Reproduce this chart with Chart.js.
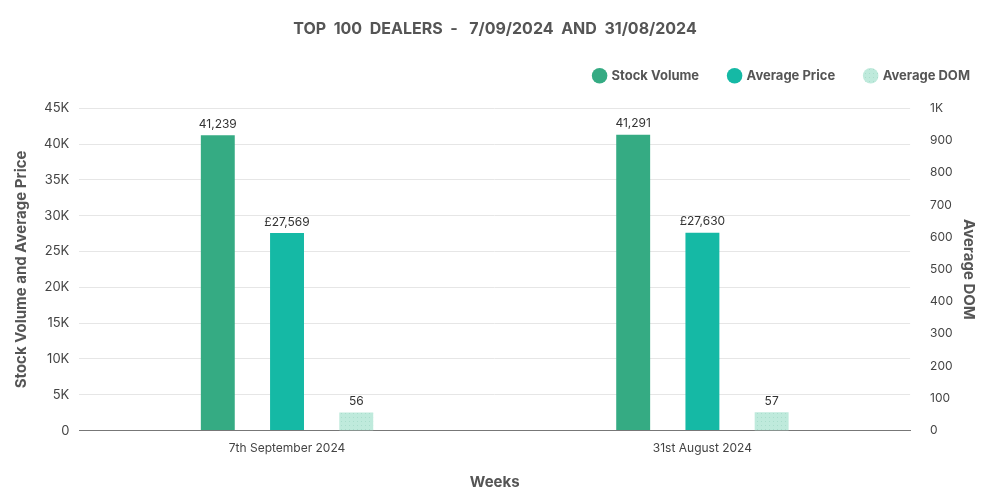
<!DOCTYPE html>
<html>
<head>
<meta charset="utf-8">
<script src="https://cdn.jsdelivr.net/npm/chart.js@4.4.1/dist/chart.umd.min.js"></script>
<style>
  html, body { margin: 0; padding: 0; background: #fff; }
  #wrap { width: 1000px; height: 500px; }
</style>
</head>
<body>
<div id="wrap"><canvas id="chart"></canvas></div>
<script>
// chart data
const weeks = ['7th September 2024', '31st August 2024'];
const stockVolume = [41239, 41291];
const averagePrice = [27569, 27630];
const averageDom = [56, 57];

const leftTicks = [0, 5000, 10000, 15000, 20000, 25000, 30000, 35000, 40000, 45000];
const rightTicks = [0, 100, 200, 300, 400, 500, 600, 700, 800, 900, 1000];

const FONT = 'Inter, "Noto Sans", sans-serif';

function shortK(v) {
    if (v === 0) return '0';
    return (v / 1000) + 'K';
}

// draws the value above each bar
const valueLabels = {
    id: 'valueLabels',
    afterDatasetsDraw(chart) {
        const ctx = chart.ctx;
        ctx.save();
        ctx.font = '12px ' + FONT;
        ctx.fillStyle = '#333';
        ctx.textAlign = 'center';
        ctx.textBaseline = 'bottom';
        chart.data.datasets.forEach((ds, i) => {
            const meta = chart.getDatasetMeta(i);
            meta.data.forEach((bar, j) => {
                const v = ds.data[j];
                let txt = v.toLocaleString('en-GB');
                if (ds.label === 'Average Price') txt = '£' + txt;
                ctx.fillText(txt, bar.x, bar.y - 5);
            });
        });
        ctx.restore();
    }
};

// extra space under the legend, and push it a bit further right
const legendTweak = {
    id: 'legendTweak',
    beforeInit(chart) {
        const fit = chart.legend.fit;
        chart.legend.fit = function () {
            fit.bind(chart.legend)();
            this.height += 16;
        };
    },
    afterLayout(chart) {
        chart.legend.left += 18;
        chart.legend.right += 18;
    }
};

// light dotted fill for the DOM bars
function dotPattern() {
    const c = document.createElement('canvas');
    c.width = 4; c.height = 4;
    const p = c.getContext('2d');
    p.fillStyle = '#bfeadc';
    p.fillRect(0, 0, 4, 4);
    p.fillStyle = '#a9ddcc';
    p.fillRect(1, 1, 1, 1);
    return p.createPattern(c, 'repeat');
}

Chart.defaults.font.family = FONT;
Chart.defaults.color = '#555';

new Chart(document.getElementById('chart'), {
    type: 'bar',
    data: {
        labels: weeks,
        datasets: [{
            label: 'Stock Volume',
            data: stockVolume,
            backgroundColor: '#35ab83',
            borderColor: '#35ab83',
            yAxisID: 'y'
        }, {
            label: 'Average Price',
            data: averagePrice,
            backgroundColor: '#15b9a5',
            borderColor: '#15b9a5',
            yAxisID: 'y'
        }, {
            label: 'Average DOM',
            data: averageDom,
            backgroundColor: dotPattern(),
            borderColor: '#bfeadc',
            yAxisID: 'y1'
        }]
    },
    options: {
        responsive: true,
        maintainAspectRatio: false,
        animation: false,
        categoryPercentage: 0.5,
        barPercentage: 0.49,
        layout: {
            padding: { left: 8, right: 18, top: 20, bottom: 5 }
        },
        plugins: {
            title: {
                display: true,
                text: 'TOP  100  DEALERS  -   7/09/2024  AND  31/08/2024',
                color: '#555',
                font: { size: 16, weight: 'bold' },
                padding: { top: 0, bottom: 0 }
            },
            legend: {
                position: 'top',
                align: 'end',
                labels: {
                    usePointStyle: true,
                    pointStyle: 'circle',
                    boxWidth: 11,
                    boxHeight: 11,
                    padding: 30,
                    color: '#555',
                    font: { size: 13, weight: 'bold' }
                }
            },
            tooltip: { enabled: false }
        },
        scales: {
            x: {
                grid: { display: false },
                border: { color: '#777' },
                ticks: { color: '#444', font: { size: 12 } },
                title: {
                    display: true,
                    text: 'Weeks',
                    color: '#555',
                    font: { size: 15, weight: 'bold' },
                    padding: { top: 14 }
                }
            },
            y: {
                position: 'left',
                min: 0,
                max: 45000,
                afterBuildTicks(axis) {
                    axis.ticks = leftTicks.map(v => ({ value: v }));
                },
                ticks: {
                    color: '#444',
                    font: { size: 13 },
                    padding: 10,
                    callback: v => shortK(v)
                },
                grid: { color: '#e6e6e6', drawTicks: false },
                border: { display: false },
                title: {
                    display: true,
                    text: 'Stock Volume and Average Price',
                    color: '#555',
                    font: { size: 15, weight: 'bold' }
                }
            },
            y1: {
                position: 'right',
                min: 0,
                max: 1000,
                afterBuildTicks(axis) {
                    axis.ticks = rightTicks.map(v => ({ value: v }));
                },
                afterFit(axis) {
                    axis.width -= 17;
                },
                ticks: {
                    color: '#444',
                    font: { size: 12 },
                    padding: 20,
                    callback: v => v === 1000 ? '1K' : String(v)
                },
                grid: { display: false, drawTicks: false },
                border: { display: false },
                title: {
                    display: true,
                    text: 'Average DOM',
                    color: '#555',
                    font: { size: 15, weight: 'bold' }
                }
            }
        }
    },
    plugins: [valueLabels, legendTweak]
});
</script>
</body>
</html>
